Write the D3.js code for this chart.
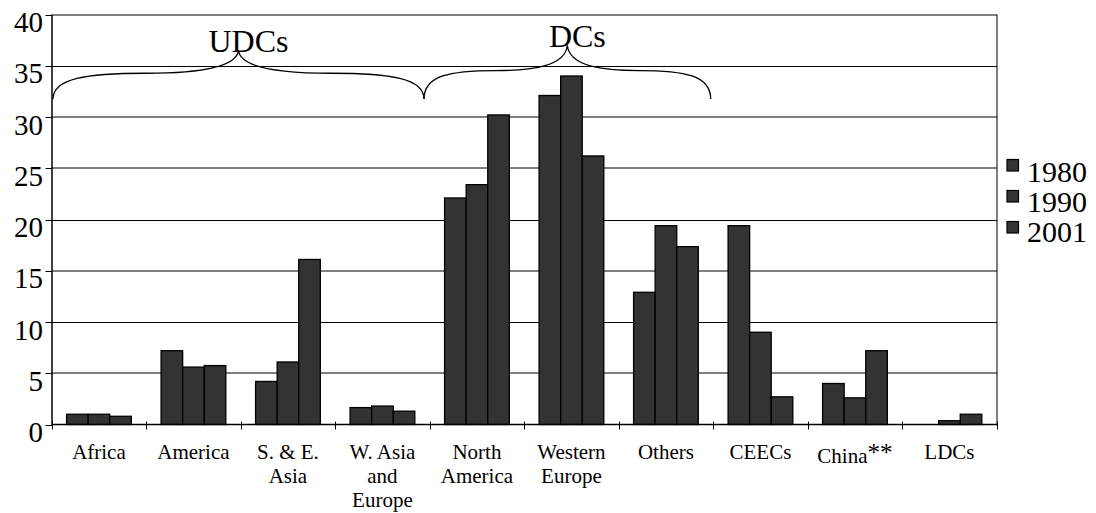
<!DOCTYPE html>
<html>
<head>
<meta charset="utf-8">
<script src="https://cdn.jsdelivr.net/npm/d3@7/dist/d3.min.js"></script>
<style>
  html, body { margin: 0; padding: 0; background: #fff; }
  svg { display: block; }
  text { font-family: "Liberation Serif", "Times New Roman", serif; fill: #000; }
</style>
</head>
<body>
<svg id="chart" width="1096" height="513"></svg>
<script>
// ---- data ----
const categories = ["Africa", "America", "S. & E.\nAsia", "W. Asia\nand\nEurope", "North\nAmerica",
                    "Western\nEurope", "Others", "CEECs", "China**", "LDCs"];
const years = ["1980", "1990", "2001"];
const values1980 = [1.0, 7.2, 4.2, 1.65, 22.1, 32.1, 12.9, 19.4, 4.0, 0];
const values1990 = [1.0, 5.6, 6.1, 1.8, 23.4, 34.0, 19.4, 9.0, 2.6, 0.37];
const values2001 = [0.8, 5.75, 16.1, 1.3, 30.2, 26.2, 17.35, 2.7, 7.2, 1.0];
const yTicks = [0, 5, 10, 15, 20, 25, 30, 35, 40];
const groupLabels = ["UDCs", "DCs"];
const groupFrom = ["Africa", "North\nAmerica"];
const groupTo = ["W. Asia\nand\nEurope", "Others"];

const seriesValues = [values1980, values1990, values2001];

// ---- layout ----
const svg = d3.select("#chart");
const plotLeft = 51.7, plotRight = 996.7, plotTop = 14.5, plotBottom = 424.5;

const x0 = d3.scaleBand().domain(categories).range([plotLeft, plotRight]).paddingInner(0).paddingOuter(0);
const bw = x0.bandwidth();
const groupW = bw * 0.685;
const off = (bw - groupW) / 2;
const x1 = d3.scaleBand().domain(years).range([0, groupW]);
const y = d3.scaleLinear().domain([0, 40]).range([plotBottom, plotTop]);

// gridlines
const darkGrid = new Set([10, 20, 35]);
svg.append("g").selectAll("line").data(yTicks.filter(v => v !== 0)).join("line")
  .attr("x1", 52).attr("x2", 997)
  .attr("y1", v => darkGrid.has(v) ? Math.round(y(v)) + 0.5 : Math.round(y(v)))
  .attr("y2", v => darkGrid.has(v) ? Math.round(y(v)) + 0.5 : Math.round(y(v)))
  .attr("stroke", "#000").attr("stroke-width", 1);

// right border
svg.append("line").attr("x1", 997).attr("x2", 997).attr("y1", y(40)).attr("y2", y(0))
  .attr("stroke", "#000").attr("stroke-width", 1);

// bars
const barData = [];
categories.forEach((c, i) => {
  years.forEach((yr, j) => {
    barData.push({ cat: c, year: yr, value: seriesValues[j][i] });
  });
});
svg.append("g").selectAll("rect").data(barData.filter(d => d.value > 0)).join("rect")
  .attr("x", d => x0(d.cat) + off + x1(d.year))
  .attr("width", x1.bandwidth())
  .attr("y", d => y(d.value))
  .attr("height", d => y(0) - y(d.value))
  .attr("fill", "#333333")
  .attr("stroke", "#000")
  .attr("stroke-width", 1.3);

// y axis
svg.append("line").attr("x1", 52).attr("x2", 52).attr("y1", y(40)).attr("y2", y(0) + 1)
  .attr("stroke", "#000").attr("stroke-width", 1.5);
svg.append("g").selectAll("line").data(yTicks).join("line")
  .attr("x1", 45.5).attr("x2", 52)
  .attr("y1", v => Math.round(y(v)) + 0.5).attr("y2", v => Math.round(y(v)) + 0.5)
  .attr("stroke", "#000").attr("stroke-width", 1);
svg.append("g").selectAll("text").data(yTicks).join("text")
  .attr("x", 43).attr("y", v => y(v) + 17.5)
  .attr("text-anchor", "end")
  .attr("font-size", 29)
  .text(v => v);

// x axis
svg.append("line").attr("x1", 52).attr("x2", 997).attr("y1", y(0)).attr("y2", y(0))
  .attr("stroke", "#000").attr("stroke-width", 1.5);
const boundaries = categories.map(c => x0(c)).concat([plotRight]);
svg.append("g").selectAll("line").data(boundaries).join("line")
  .attr("x1", d => Math.round(d) + 0.5).attr("x2", d => Math.round(d) + 0.5)
  .attr("y1", y(0) - 3).attr("y2", y(0) + 5)
  .attr("stroke", "#000").attr("stroke-width", 1);

// category labels
const labG = svg.append("g");
categories.forEach(c => {
  const t = labG.append("text")
    .attr("x", x0(c) + bw / 2)
    .attr("y", 459)
    .attr("text-anchor", "middle")
    .attr("font-size", 21);
  const lines = c.split("\n");
  lines.forEach((ln, k) => {
    if (ln.endsWith("**")) {
      const ts = t.append("tspan").attr("x", x0(c) + bw / 2).attr("dy", k === 0 ? 4 : 24);
      ts.append("tspan").text(ln.slice(0, -2));
      ts.append("tspan").attr("font-size", 25).attr("dy", -2).text("**");
    } else {
      t.append("tspan").attr("x", x0(c) + bw / 2).attr("dy", k === 0 ? 0 : 24).text(ln);
    }
  });
});

// braces
function bracePath(xa, xb, yEnd, yPeak) {
  const xm = (xa + xb) / 2;
  const w = xm - xa;
  const ym = yEnd - (yEnd - yPeak) * 0.53;
  return `M${xa},${yEnd}` +
    `C${xa},${ym + 5} ${xa + w * 0.18},${ym} ${xa + w * 0.5},${ym}` +
    `C${xm - w * 0.25},${ym} ${xm - 2},${ym - 4} ${xm},${yPeak}` +
    `C${xm + 2},${ym - 4} ${xb - w * 0.75},${ym} ${xb - w * 0.5},${ym}` +
    `C${xb - w * 0.18},${ym} ${xb},${ym + 5} ${xb},${yEnd}`;
}
const braceG = svg.append("g");
const bracePeaks = [36.5, 37.0];
groupLabels.forEach((lab, i) => {
  const xa = i === 0 ? x0(groupFrom[i]) + 1.3 : x0(groupFrom[i]) - 5.7;
  const xb = x0(groupTo[i]) + bw - (i === 0 ? 5.7 : 2.5);
  const yEnd = y(31.75), yPeak = y(bracePeaks[i]);
  braceG.append("path").attr("d", bracePath(xa, xb, yEnd, yPeak))
    .attr("fill", "none").attr("stroke", "#000").attr("stroke-width", 1.3);
  braceG.append("text")
    .attr("x", (xa + xb) / 2 + 10)
    .attr("y", yPeak + 1.7)
    .attr("text-anchor", "middle")
    .attr("font-size", 32)
    .text(lab);
});

// legend
const leg = svg.append("g");
years.forEach((yr, j) => {
  leg.append("rect").attr("x", 1007).attr("y", 159.5 + j * 31).attr("width", 11.5).attr("height", 11.5)
    .attr("fill", "#333333").attr("stroke", "#000").attr("stroke-width", 1.2);
  leg.append("text").attr("x", 1027).attr("y", 181.5 + j * 30.3)
    .attr("font-size", 30).text(yr);
});
</script>
</body>
</html>
